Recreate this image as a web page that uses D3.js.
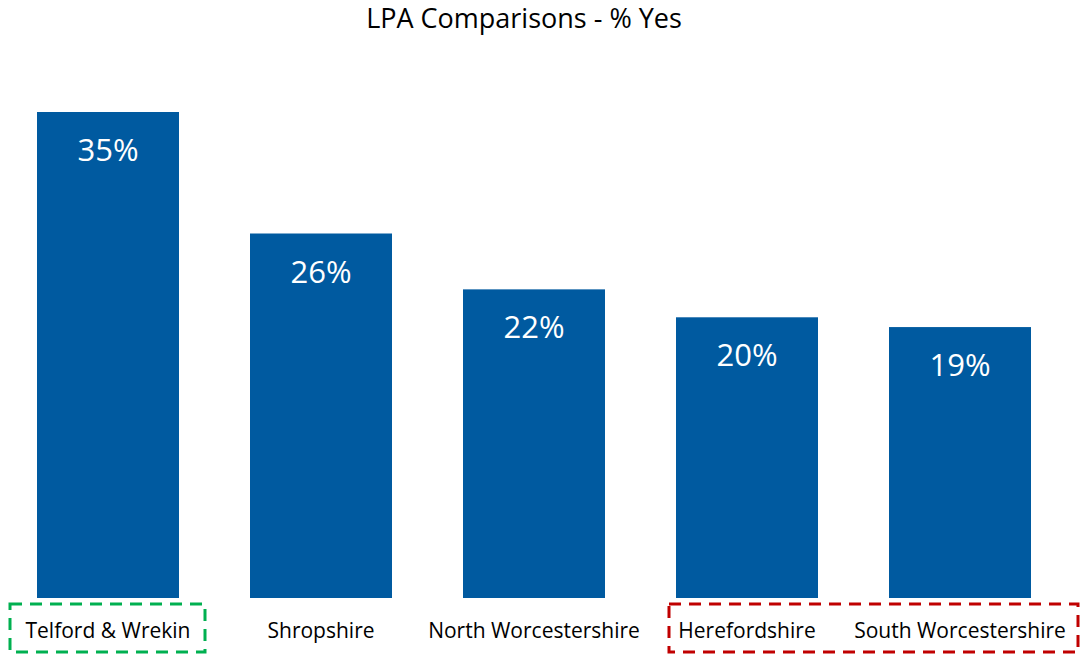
<!DOCTYPE html>
<html>
<head>
<meta charset="utf-8">
<script src="https://cdn.jsdelivr.net/npm/d3@7"></script>
<style>
  body { margin: 0; background: #fff; }
  svg { display: block; font-family: "Open Sans", "Noto Sans", sans-serif; }
</style>
</head>
<body>
<div id="chart"></div>
<script>
(function() {
  const width = 1084;
  const height = 657;

  const categories = ["Telford & Wrekin", "Shropshire", "North Worcestershire", "Herefordshire", "South Worcestershire"];
  const yesPct = [34.8, 26.1, 22.1, 20.1, 19.4];
  const title = "LPA Comparisons - % Yes";

  // highlight boxes round the category labels
  const goodGroup = ["Telford & Wrekin"];
  const badGroup = ["Herefordshire", "South Worcestershire"];

  const data = categories.map((c, i) => ({ cat: c, value: yesPct[i] }));

  const svg = d3.select("#chart")
    .append("svg")
    .attr("width", width)
    .attr("height", height);

  const x = d3.scaleBand()
    .domain(categories)
    .range([1.5, 1066.5])
    .paddingInner(1 / 3)
    .paddingOuter(1 / 6);

  const baseline = 598;
  const y = d3.scaleLinear()
    .domain([0, d3.max(yesPct)])
    .range([baseline, 112]);

  // Title
  svg.append("text")
    .attr("x", 524)
    .attr("y", 28)
    .attr("text-anchor", "middle")
    .attr("font-size", "27px")
    .attr("fill", "#000")
    .text(title);

  // Bars
  svg.selectAll("rect.bar")
    .data(data)
    .join("rect")
    .attr("class", "bar")
    .attr("x", d => x(d.cat))
    .attr("y", d => y(d.value))
    .attr("width", x.bandwidth())
    .attr("height", d => baseline - y(d.value))
    .attr("fill", "#005aa0");

  // Value labels inside bars
  svg.selectAll("text.val")
    .data(data)
    .join("text")
    .attr("class", "val")
    .attr("x", d => x(d.cat) + x.bandwidth() / 2)
    .attr("y", d => y(d.value) + 49)
    .attr("text-anchor", "middle")
    .attr("font-size", "31px")
    .attr("fill", "#fff")
    .text(d => Math.round(d.value) + "%");

  // Category labels
  svg.selectAll("text.cat")
    .data(data)
    .join("text")
    .attr("class", "cat")
    .attr("x", d => x(d.cat) + x.bandwidth() / 2)
    .attr("y", 638)
    .attr("text-anchor", "middle")
    .attr("font-size", "21px")
    .attr("fill", "#000")
    .text(d => d.cat);

  // Dashed boxes
  function box(cats, pad, color) {
    const x0 = x(cats[0]) + x.bandwidth() / 2 - pad[0];
    const last = cats[cats.length - 1];
    const x1 = x(last) + x.bandwidth() / 2 + pad[1];
    svg.append("rect")
      .attr("x", x0)
      .attr("y", 604)
      .attr("width", x1 - x0)
      .attr("height", 48)
      .attr("fill", "none")
      .attr("stroke", color)
      .attr("stroke-width", 3)
      .attr("stroke-dasharray", "12,8");
  }
  box(goodGroup, [98, 97], "#00b050");
  box(badGroup, [78, 118], "#c00000");
})();
</script>
</body>
</html>
